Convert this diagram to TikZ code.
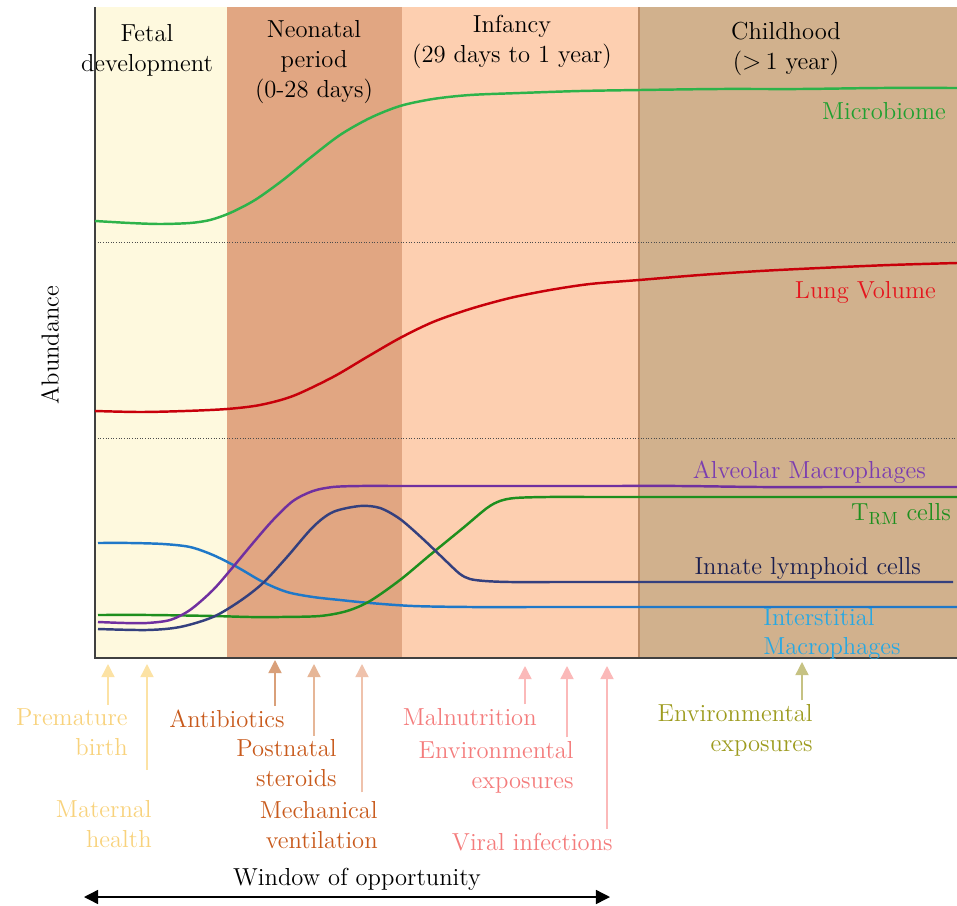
\documentclass[tikz,border=0pt]{standalone}
\usetikzlibrary{arrows.meta}

\definecolor{fetalbg}{HTML}{FEF9DE}
\definecolor{neobg}{HTML}{E1A682}
\definecolor{infbg}{HTML}{FDCFB0}
\definecolor{childbg}{HTML}{D1B18D}
\definecolor{childedge}{HTML}{BE8C66}
\definecolor{microline}{HTML}{2DB34A}
\definecolor{microtext}{HTML}{1FA030}
\definecolor{lungline}{HTML}{C8000A}
\definecolor{lungtext}{HTML}{E5161E}
\definecolor{alvline}{HTML}{7030A0}
\definecolor{alvtext}{HTML}{7B3DB0}
\definecolor{trmline}{HTML}{1E8F1E}
\definecolor{ilcline}{HTML}{34407E}
\definecolor{ilctext}{HTML}{1B1F4F}
\definecolor{intline}{HTML}{1F78C8}
\definecolor{inttext}{HTML}{26A8E4}
\definecolor{fetaltext}{HTML}{F8D27C}
\definecolor{fetalarrow}{HTML}{FCE2A4}
\definecolor{neotext}{HTML}{C85A1C}
\definecolor{neoarrowA}{HTML}{D9A07A}
\definecolor{neoarrowB}{HTML}{E6B697}
\definecolor{neoarrowC}{HTML}{EFC2AC}
\definecolor{inftext}{HTML}{F47C7C}
\definecolor{infarrow}{HTML}{FBB9B9}
\definecolor{childtext}{HTML}{9D9B1E}
\definecolor{childarrow}{HTML}{C6C283}

\begin{document}
\begin{tikzpicture}[x=0.02cm,y=-0.02cm,
    font=\fontsize{14}{17}\selectfont,
    curve/.style={line width=1.4pt, smooth, tension=0.5},
    period/.style={align=center, inner sep=0pt},
    factor/.style={align=right, anchor=east, inner sep=0pt},
    trigger/.style={-{Triangle[width=7.5pt,length=7.5pt]}, line width=0.8pt, shorten <=2pt},
    sep/.style={densely dotted, line width=0.5pt, black!70}]

    \useasboundingbox (0,0) rectangle (957,906);

    \def\fetal{(95,7) rectangle (227,658)}
    \def\neonatal{(227,7) rectangle (402,658)}
    \def\infancy{(402,7) rectangle (639,658)}
    \def\childhood{(639,7) rectangle (957,658)}

    %periods:
    \fill[fetalbg] \fetal;
    \fill[neobg] \neonatal;
    \fill[infbg] \infancy;
    \fill[childbg] \childhood;
    \draw[childedge, line width=1.2pt] (639,7) -- (639,658);

    \node[period] (fetal) at (147,50) {Fetal\\development};
    \node[period] (neonatal) at (314,62) {Neonatal\\period\\(0-28 days)};
    \node[period] (infancy) at (512,42) {Infancy\\(29 days to 1 year)};
    \node[period] (childhood) at (786,49) {Childhood\\($>$\,1 year)};

    %separators and axes:
    \draw[sep] (95,242) -- (957,242);
    \draw[sep] (95,438) -- (957,438);
    \draw[black!75, line width=0.9pt] (95,7) -- (95,658) -- (957,658);
    \node[rotate=90] (abundance) at (50,345) {Abundance};

    %top curves:
    \draw[curve, microline] plot coordinates {(95,221) (130,223) (160,224) (190,223) (210,220) (230,213)
        (255,200) (283,180) (310,158) (340,135) (370,118) (400,106) (433,99) (470,95) (520,93) (580,91)
        (640,90) (720,89) (800,89) (880,88) (957,88)};
    \node[anchor=east, microtext] (microbiome) at (952,111) {Microbiome};

    \draw[curve, lungline] plot coordinates {(95,411) (140,412) (185,411) (227,409) (260,405) (293,396)
        (333,377) (367,357) (400,338) (433,322) (470,309) (510,298) (550,290) (590,284) (639,280)
        (700,275) (760,271) (820,268) (890,265) (957,263)};
    \node[anchor=east, lungtext] (lung) at (942,292) {Lung Volume};

    %bottom curves:
    \draw[curve, intline] plot coordinates {(98,543) (130,543) (163,544) (190,547) (213,555) (237,567)
        (263,582) (287,592) (313,597) (340,600) (370,603) (413,606) (470,607) (540,607) (620,607)
        (700,607) (780,607) (860,607) (957,607)};
    \draw[curve, trmline] plot coordinates {(98,615) (150,615) (213,616) (250,617) (280,617) (320,616)
        (347,611) (370,601) (400,580) (430,555) (463,528) (487,508) (500,501) (515,498) (547,497)
        (600,497) (660,497) (740,497) (820,497) (900,497) (957,497)};
    \draw[curve, ilcline] plot coordinates {(98,629) (147,630) (180,627) (213,617) (240,601) (263,583)
        (287,557) (313,527) (333,512) (360,506) (380,508) (400,519) (423,539) (447,562) (460,574)
        (470,579) (485,581) (510,582) (560,582) (620,582) (700,582) (780,582) (860,582) (953,582)};
    \draw[curve, alvline] plot coordinates {(98,622) (125,623) (147,623) (170,620) (190,610) (213,590)
        (233,567) (253,543) (273,520) (293,501) (313,491) (333,487) (360,486) (400,486) (450,486)
        (520,486) (600,486) (680,486) (760,487) (840,487) (957,487)};

    \node[anchor=east, alvtext] (alveolar) at (932,472) {Alveolar Macrophages};
    \node[anchor=east, trmline] (trm) at (957,514) {T$_{\mathrm{RM}}$ cells};
    \node[anchor=east, ilctext] (ilc) at (927,568) {Innate lymphoid cells};
    \node[align=left, anchor=west, inner sep=0pt, inttext] (interstitial) at (763,634) {Interstitial\\Macrophages};

    %exposures:
    \node[factor, fetaltext] (premature) at (128,732) {Premature\\birth};
    \node[factor, fetaltext] (maternal) at (152,824) {Maternal\\health};
    \node[factor, neotext] (antibiotics) at (285,719) {Antibiotics};
    \node[factor, neotext] (steroids) at (337,763) {Postnatal\\steroids};
    \node[factor, neotext] (ventilation) at (378,825) {Mechanical\\ventilation};
    \node[factor, inftext] (malnutrition) at (537,717) {Malnutrition};
    \node[factor, inftext] (envinf) at (574,767) {Environmental\\exposures};
    \node[factor, inftext] (viral) at (613,842) {Viral infections};
    \node[factor, childtext] (envchild) at (813,730) {Environmental\\exposures};

    \coordinate (premature tip) at (108,664);
    \coordinate (maternal tip) at (147,664);
    \coordinate (antibiotics tip) at (275,660);
    \coordinate (steroids tip) at (314,664);
    \coordinate (ventilation tip) at (362,664);
    \coordinate (malnutrition tip) at (525,666);
    \coordinate (envinf tip) at (567,666);
    \coordinate (viral tip) at (607,666);
    \coordinate (envchild tip) at (802,662);

    \draw[trigger, fetalarrow] (premature.north -| premature tip) -- (premature tip);
    \draw[trigger, fetalarrow, shorten <=17pt] (maternal.north -| maternal tip) -- (maternal tip);
    \draw[trigger, neoarrowA] (antibiotics.north -| antibiotics tip) -- (antibiotics tip);
    \draw[trigger, neoarrowB] (steroids.north -| steroids tip) -- (steroids tip);
    \draw[trigger, neoarrowC, shorten <=5pt] (ventilation.north -| ventilation tip) -- (ventilation tip);
    \draw[trigger, infarrow] (malnutrition.north -| malnutrition tip) -- (malnutrition tip);
    \draw[trigger, infarrow] (envinf.north -| envinf tip) -- (envinf tip);
    \draw[trigger, infarrow] (viral.north -| viral tip) -- (viral tip);
    \draw[trigger, childarrow] (envchild.north -| envchild tip) -- (envchild tip);

    %window:
    \coordinate (window left) at (84,897);
    \coordinate (window right) at (610,897);
    \draw[{Triangle[width=8pt,length=8pt]}-{Triangle[width=8pt,length=8pt]}, line width=0.8pt] (window left) -- (window right);
    \node (window) at (357,879) {Window of opportunity};

\end{tikzpicture}
\end{document}
